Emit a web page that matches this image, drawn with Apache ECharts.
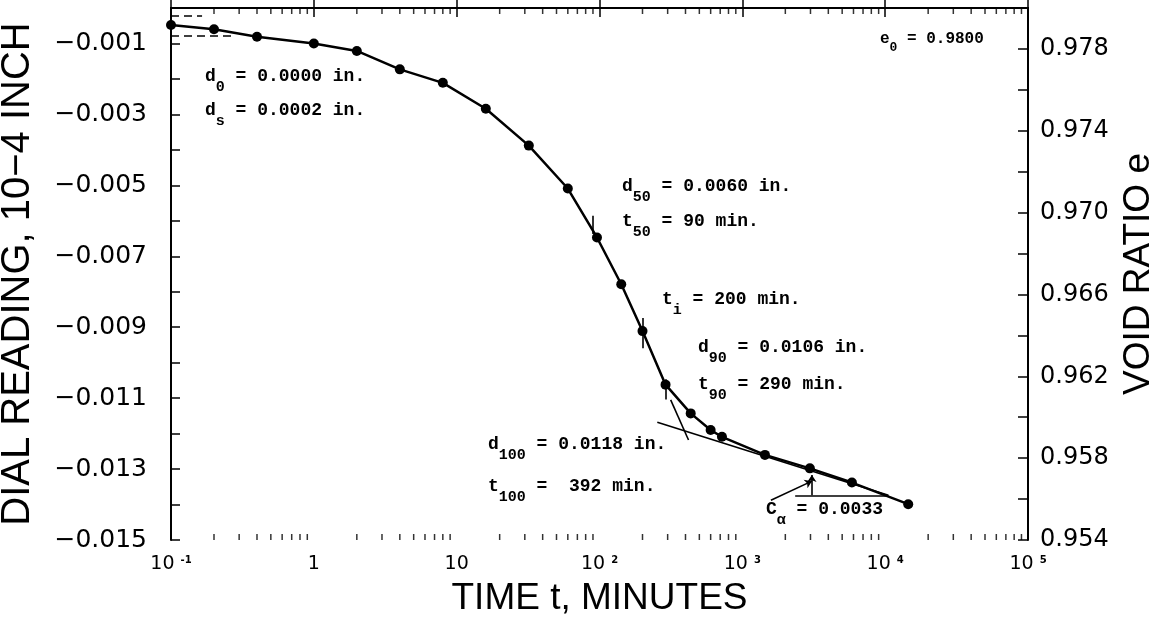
<!DOCTYPE html>
<html><head><meta charset="utf-8">
<script src="https://cdn.jsdelivr.net/npm/echarts@6/dist/echarts.min.js"></script>
<style>html,body{margin:0;padding:0;background:#fff}#c{width:1167px;height:625px}</style>
</head><body><div id="c"></div>
<script>
// ---- data ----
const timeMin = [0.1, 0.2, 0.4, 1, 2, 4, 8, 16, 32, 60, 96, 142, 200, 290, 435, 600, 720, 1440, 2970, 5850, 14500];
const dialReading = [-0.00048, -0.0006, -0.00081, -0.0010, -0.00121, -0.00173, -0.00211, -0.00284, -0.00388, -0.00509, -0.00647, -0.00779, -0.00911, -0.01062, -0.01143, -0.0119, -0.01209, -0.0126, -0.01298, -0.01338, -0.01399];

// construction lines (time, dial reading)
const primaryTangent = [[315, -0.01105], [420, -0.01218]];
const secondaryLine = [[254, -0.01168], [10540, -0.01374]];
const triangleBase = [[2344, -0.01374], [10540, -0.01374]];
const triangleRise = [[3069, -0.01374], [3069, -0.01317]];
const calphaPointer = [[1585, -0.01388], [3069, -0.01334]];
const t50Mark = [[90, -0.00586], [90, -0.00637]];
const tiMark = [[200, -0.00874], [200, -0.00959]];
const t90Mark = [[290, -0.01047], [290, -0.01104]];
const d0Dash = [[0.1, -0.00023], [0.165, -0.00023]];
const dsDash = [[0.1, -0.00077], [0.27, -0.00077]];

// axis ticks / labels
const xDecades = [0.1, 1, 10, 100, 1000, 10000, 100000];
const xTickBase = ['10', '1', '10', '10', '10', '10', '10'];
const xTickSup = ['-1', '', '', '2', '3', '4', '5'];
const minorFactors = [2, 3, 4, 5, 6, 7, 8, 9];
const leftTickLabels = ['−0.001', '−0.003', '−0.005', '−0.007', '−0.009', '−0.011', '−0.013', '−0.015'];
const rightTickLabels = ['0.954', '0.958', '0.962', '0.966', '0.970', '0.974', '0.978'];

// annotations
const notes = [
  ['d', '0', ' = 0.0000 in.'],
  ['d', 's', ' = 0.0002 in.'],
  ['d', '50', ' = 0.0060 in.'],
  ['t', '50', ' = 90 min.'],
  ['t', 'i', ' = 200 min.'],
  ['d', '90', ' = 0.0106 in.'],
  ['t', '90', ' = 290 min.'],
  ['d', '100', ' = 0.0118 in.'],
  ['t', '100', ' =  392 min.'],
  ['C', 'α', ' = 0.0033'],
  ['e', '0', ' = 0.9800']
];
const notePos = [[205, 67], [205, 101], [622, 177], [622, 212], [662, 290], [698, 338], [698, 375], [488, 435], [488, 477], [766, 500], [880, 31]];

// ---- build ----
const seriesData = timeMin.map((t, i) => [t, dialReading[i]]);
const minorX = [];
xDecades.slice(0, 6).forEach(d => minorFactors.forEach(f => minorX.push(+(d * f).toPrecision(6))));

const chart = echarts.init(document.getElementById('c'), null, {renderer: 'canvas'});
const black = '#000';
const mono = 'Liberation Mono';
const monoRich = {
  a: {fontFamily: mono, fontWeight: 'bold', fontSize: 18, lineHeight: 20, verticalAlign: 'top', color: black},
  s: {fontFamily: mono, fontWeight: 'bold', fontSize: 15, lineHeight: 41, color: black}
};
const e0Rich = {
  a: {fontFamily: mono, fontWeight: 'bold', fontSize: 16, lineHeight: 18, verticalAlign: 'top', color: black},
  s: {fontFamily: mono, fontWeight: 'bold', fontSize: 13, lineHeight: 33, color: black}
};

function axisCommon(extra) {
  return Object.assign({
    axisLine: {show: true, lineStyle: {color: black, width: 2}},
    splitLine: {show: false},
    axisTick: {show: true, inside: true, length: 9, lineStyle: {color: black, width: 1.5}}
  }, extra);
}

const option = {
  animation: false,
  backgroundColor: '#fff',
  grid: {left: 171, right: 139, top: 8, bottom: 85, containLabel: false, outerBoundsMode: 'none'},
  xAxis: [
    axisCommon({
      type: 'log', logBase: 10, min: 0.1, max: 100000, position: 'bottom',
      axisLabel: {
        margin: 15, color: black,
        formatter: v => {
          const i = xDecades.findIndex(d => Math.abs(Math.log10(d) - Math.log10(v)) < 1e-6);
          if (i < 0) return '';
          return '{b|' + xTickBase[i] + (xTickSup[i] ? ' ' : '') + '}' + (xTickSup[i] ? '{s|' + xTickSup[i] + '}' : '');
        },
        rich: {
          b: {fontFamily: 'DejaVu Sans', fontSize: 19, lineHeight: 20, verticalAlign: 'top', color: black},
          s: {fontFamily: 'DejaVu Sans', fontSize: 10, fontWeight: 'bold', lineHeight: 11, verticalAlign: 'top', color: black}
        }
      },
      name: 'TIME t, MINUTES', nameLocation: 'middle', nameGap: 40,
      nameTextStyle: {fontFamily: 'Liberation Sans', fontSize: 37, color: black}
    }),
    axisCommon({
      type: 'log', logBase: 10, min: 0.1, max: 100000, position: 'top',
      axisLabel: {show: false}
    })
  ],
  yAxis: [
    axisCommon({
      type: 'value', min: -0.015, max: 0, interval: 0.001, position: 'left',
      axisLabel: {
        margin: 24, color: black, fontFamily: 'DejaVu Sans', fontSize: 25,
        formatter: v => {
          const k = Math.round(-v * 1000);
          if (k % 2 === 1) return leftTickLabels[(k - 1) / 2];
          return '';
        }
      },
      name: 'DIAL READING, 10−4 INCH', nameLocation: 'middle', nameGap: 133,
      nameTextStyle: {fontFamily: 'Liberation Sans', fontSize: 40, color: black}
    }),
    axisCommon({
      type: 'value', min: 0.954, max: 0.980, interval: 0.002, position: 'right',
      axisTick: {show: true, inside: true, length: 10, lineStyle: {color: black, width: 1.5}},
      axisLabel: {
        margin: 12, color: black, fontFamily: 'DejaVu Sans', fontSize: 24,
        formatter: v => {
          const k = Math.round((v - 0.954) / 0.002);
          if (k % 2 === 0 && k <= 12) return rightTickLabels[k / 2];
          return '';
        }
      },
      name: 'VOID RATIO e', nameLocation: 'middle', nameGap: 92,
      nameTextStyle: {fontFamily: 'Liberation Sans', fontSize: 37, color: black}
    })
  ],
  series: [
    {
      type: 'line', xAxisIndex: 0, yAxisIndex: 0, data: seriesData,
      symbol: 'circle', symbolSize: 10, showAllSymbol: true,
      lineStyle: {color: black, width: 2.5}, itemStyle: {color: black}, z: 5
    },
    {
      type: 'lines', coordinateSystem: 'cartesian2d', xAxisIndex: 0, yAxisIndex: 0,
      data: [primaryTangent, secondaryLine, triangleBase, t50Mark, tiMark, t90Mark].map(c => ({coords: c})),
      lineStyle: {color: black, width: 1.6, opacity: 1}, symbol: 'none', silent: true, z: 4
    },
    {
      type: 'lines', coordinateSystem: 'cartesian2d', xAxisIndex: 0, yAxisIndex: 0,
      data: [triangleRise, calphaPointer].map(c => ({coords: c})),
      lineStyle: {color: black, width: 1.6, opacity: 1}, symbol: ['none', 'arrow'], symbolSize: 7, silent: true, z: 4
    },
    {
      type: 'lines', coordinateSystem: 'cartesian2d', xAxisIndex: 0, yAxisIndex: 0,
      data: [d0Dash, dsDash].map(c => ({coords: c})),
      lineStyle: {color: black, width: 1.5, type: [8, 5], opacity: 1}, symbol: 'none', silent: true, z: 4
    },
    {
      type: 'scatter', xAxisIndex: 0, yAxisIndex: 0, clip: false, silent: true,
      data: minorX.map(x => [x, -0.015]),
      symbol: 'rect', symbolSize: [1.5, 6], symbolOffset: [0, -3], itemStyle: {color: black}
    },
    {
      type: 'scatter', xAxisIndex: 0, yAxisIndex: 0, clip: false, silent: true,
      data: minorX.map(x => [x, 0]),
      symbol: 'rect', symbolSize: [1.5, 6], symbolOffset: [0, 3], itemStyle: {color: black}
    }
  ],
  graphic: notes.map((n, i) => ({
    type: 'text', x: notePos[i][0], y: notePos[i][1], silent: true,
    style: {
      text: '{a|' + n[0] + '}{s|' + n[1] + '}{a|' + n[2] + '}',
      rich: i === notes.length - 1 ? e0Rich : monoRich,
      align: 'left', verticalAlign: 'top'
    }
  }))
};
chart.setOption(option);
</script>
</body></html>
